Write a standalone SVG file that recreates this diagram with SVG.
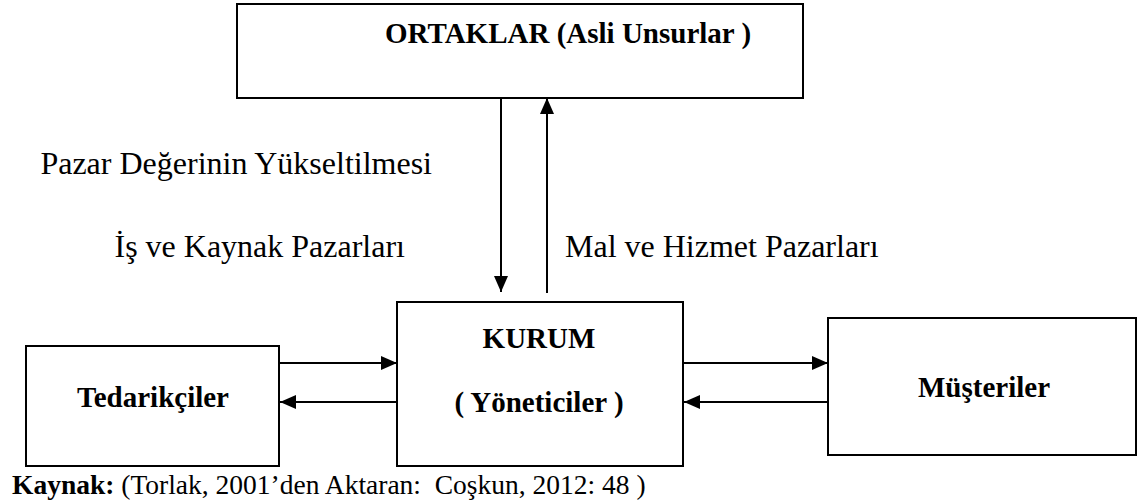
<svg xmlns="http://www.w3.org/2000/svg" width="1138" height="504" viewBox="0 0 1138 504">
  <style>
    .box { fill: #ffffff; stroke: #000000; stroke-width: 2; }
    .lbl { font-family: "Liberation Serif", "Times New Roman", serif; font-size: 32px; fill: #000000; }
    .bold { font-weight: bold; font-size: 29px; }
    .cap { font-family: "Liberation Serif", "Times New Roman", serif; font-size: 27.5px; fill: #000000; white-space: pre; }
    .edge { stroke: #000000; stroke-width: 2; fill: none; marker-end: url(#head); }
  </style>
  <defs>
    <marker id="head" viewBox="0 0 16 14" refX="16" refY="7" markerWidth="16" markerHeight="14" markerUnits="userSpaceOnUse" orient="auto">
      <path d="M0,0 L16,7 L0,14 Z" fill="#000000"/>
    </marker>
  </defs>
  <rect width="1138" height="504" fill="#ffffff"/>

  <g id="ortaklar">
    <rect class="box" x="237" y="4" width="566" height="94"/>
    <text class="lbl bold" x="385" y="43">ORTAKLAR (Asli Unsurlar )</text>
  </g>

  <g id="tedarikciler">
    <rect class="box" x="26" y="346" width="253" height="120"/>
    <text class="lbl bold" x="153" y="407" text-anchor="middle">Tedarikçiler</text>
  </g>

  <g id="kurum">
    <rect class="box" x="397" y="302" width="286" height="164"/>
    <text class="lbl bold" x="539" y="348" text-anchor="middle">KURUM</text>
    <text class="lbl bold" x="539" y="412" text-anchor="middle">( Yöneticiler )</text>
  </g>

  <g id="musteriler">
    <rect class="box" x="828" y="318" width="308" height="137"/>
    <text class="lbl bold" x="984" y="397" text-anchor="middle">Müşteriler</text>
  </g>

  <g id="connectors">
    <line class="edge" x1="501" y1="98" x2="501" y2="292"/>
    <line class="edge" x1="547" y1="293" x2="547" y2="98"/>
    <line class="edge" x1="279" y1="363" x2="397" y2="363"/>
    <line class="edge" x1="397" y1="402" x2="280" y2="402"/>
    <line class="edge" x1="683" y1="363" x2="828" y2="363"/>
    <line class="edge" x1="828" y1="402" x2="684" y2="402"/>
  </g>

  <g id="labels">
    <text class="lbl" x="432" y="174" text-anchor="end" font-size="31">Pazar Değerinin Yükseltilmesi</text>
    <text class="lbl" x="405" y="257" text-anchor="end">İş ve Kaynak Pazarları</text>
    <text class="lbl" x="565" y="257">Mal ve Hizmet Pazarları</text>
  </g>

  <g id="caption">
    <text class="cap" x="12" y="494"><tspan font-weight="bold">Kaynak:</tspan> (Torlak, 2001’den Aktaran:  Coşkun, 2012: 48 )</text>
  </g>
</svg>
